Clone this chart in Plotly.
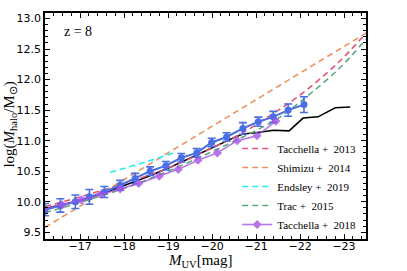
import plotly.graph_objects as go

# ---- data ----
shimizu_x = [-16.2, -20.8, -23.5]
shimizu_y = [9.58, 11.58, 12.76]

tacchella13_x = [-16.2, -17.0, -18.0, -19.0, -20.0, -20.7, -21.4, -21.8, -22.2, -22.6, -23.0, -23.5]
tacchella13_y = [9.92, 10.08, 10.30, 10.55, 10.88, 11.13, 11.45, 11.64, 11.86, 12.10, 12.37, 12.76]

trac_x = [-16.2, -17.0, -18.0, -19.0, -20.0, -20.7, -21.4, -21.8, -22.2, -22.6, -23.0, -23.5]
trac_y = [9.82, 9.99, 10.22, 10.50, 10.82, 11.06, 11.32, 11.52, 11.75, 11.99, 12.26, 12.66]

endsley_x = [-17.68, -18.67, -19.16]
endsley_y = [10.48, 10.69, 10.81]

sim_x = [-16.2, -17.0, -17.5, -18.0, -18.5, -19.0, -19.5, -20.0, -20.5, -20.7, -21.0, -21.4, -21.75, -22.07, -22.41, -22.8, -23.14]
sim_y = [9.89, 10.02, 10.13, 10.26, 10.40, 10.55, 10.72, 10.89, 11.05, 11.11, 11.13, 11.17, 11.16, 11.37, 11.39, 11.54, 11.55]

obs_x = [-16.2, -16.55, -16.89, -17.21, -17.55, -17.91, -18.25, -18.59, -18.95, -19.30, -19.65,
         -19.99, -20.33, -20.70, -21.05, -21.39, -21.73, -22.09]
obs_y = [9.87, 9.94, 10.00, 10.08, 10.16, 10.27, 10.38, 10.50, 10.59, 10.72, 10.80,
         10.97, 11.06, 11.20, 11.31, 11.39, 11.50, 11.59]
obs_err = [0.1, 0.11, 0.11, 0.12, 0.09, 0.08, 0.085, 0.07, 0.07, 0.07, 0.07,
           0.07, 0.07, 0.095, 0.075, 0.09, 0.10, 0.13]

t18_x = [-16.15, -16.59, -17.03, -17.47, -17.91, -18.33, -18.80, -19.23, -19.68, -20.12, -20.57, -21.02, -21.45]
t18_y = [9.88, 9.95, 10.03, 10.12, 10.21, 10.30, 10.42, 10.53, 10.68, 10.80, 11.00, 11.08, 11.32]
t18_err = [0.03] * 13

x_ticks = [-17, -18, -19, -20, -21, -22, -23]
y_ticks = [9.5, 10.0, 10.5, 11.0, 11.5, 12.0, 12.5, 13.0]

X_RANGE = [-16.2, -23.5]
Y_RANGE = [9.39, 13.09]

SERIF = "Liberation Serif"
SANS = "DejaVu Sans"
dash = "6px,4px"

fig = go.Figure()

fig.add_trace(go.Scatter(x=sim_x, y=sim_y, mode="lines",
                         line=dict(color="black", width=1.6), showlegend=False))
fig.add_trace(go.Scatter(x=tacchella13_x, y=tacchella13_y, mode="lines", name="Tacchella +  2013",
                         line=dict(color="#e4557a", width=1.6, dash=dash, shape="spline")))
fig.add_trace(go.Scatter(x=shimizu_x, y=shimizu_y, mode="lines", name="Shimizu +  2014",
                         line=dict(color="#eb9460", width=1.6, dash=dash)))
fig.add_trace(go.Scatter(x=endsley_x, y=endsley_y, mode="lines", name="Endsley +  2019",
                         line=dict(color="#22eef0", width=1.6, dash=dash)))
fig.add_trace(go.Scatter(x=trac_x, y=trac_y, mode="lines", name="Trac +  2015",
                         line=dict(color="#5aaa7a", width=1.6, dash=dash, shape="spline")))
fig.add_trace(go.Scatter(x=obs_x, y=obs_y, mode="lines+markers", showlegend=False,
                         line=dict(color="#4a6ee6", width=2),
                         marker=dict(color="#4a6ee6", size=7, symbol="circle"),
                         error_y=dict(type="data", array=obs_err, color="#4a6ee6",
                                      thickness=1.6, width=4)))
fig.add_trace(go.Scatter(x=t18_x, y=t18_y, mode="lines+markers", name="Tacchella +  2018",
                         opacity=0.8,
                         line=dict(color="#a552e6", width=1.6),
                         marker=dict(color="#a552e6", size=7, symbol="diamond"),
                         error_y=dict(type="data", array=t18_err, color="#a552e6",
                                      thickness=1.5, width=0)))
# invisible trace to anchor the mirrored (top/right) tick axes
fig.add_trace(go.Scatter(x=[X_RANGE[0]], y=[Y_RANGE[0]], xaxis="x2", yaxis="y2",
                         mode="markers", marker=dict(opacity=0), showlegend=False,
                         hoverinfo="skip"))

axis_common = dict(showline=True, linecolor="black", linewidth=1.5,
                   ticks="inside", ticklen=5, tickwidth=1.2, tickcolor="black",
                   showgrid=False, zeroline=False, automargin=False,
                   tickfont=dict(family=SANS, size=11, color="black"))

xminor = dict(ticks="inside", ticklen=3, tickcolor="black", dtick=0.2, tick0=-17)
yminor = dict(ticks="inside", ticklen=3, tickcolor="black", dtick=0.1, tick0=9.5)

fig.update_layout(
    xaxis=dict(range=X_RANGE, tickvals=x_ticks, minor=xminor, ticklabelstandoff=-4, **axis_common),
    yaxis=dict(range=Y_RANGE, tickvals=y_ticks, tickformat=".1f", minor=yminor, **axis_common),
    xaxis2=dict(range=X_RANGE, tickvals=x_ticks, minor=xminor, overlaying="x", side="top",
                anchor="y2", showticklabels=False, **axis_common),
    yaxis2=dict(range=Y_RANGE, tickvals=y_ticks, minor=yminor, overlaying="y", side="right",
                anchor="x2", showticklabels=False, **axis_common),
)

fig.add_annotation(xref="paper", yref="paper", x=0.053, y=0.917, xanchor="left", yanchor="middle",
                   text="z = 8", showarrow=False, font=dict(family=SERIF, size=14, color="black"))
fig.add_annotation(xref="paper", yref="paper", x=0.484, y=-0.097, xanchor="center", yanchor="middle",
                   text="<i>M</i><sub>UV</sub>[mag]", showarrow=False,
                   font=dict(family=SERIF, size=15, color="black"))
fig.add_annotation(xref="paper", yref="paper", x=-0.11, y=0.505, xanchor="center", yanchor="middle",
                   textangle=-90, text="log(<i>M</i><sub>halo</sub>/M<sub>⊙</sub>)", showarrow=False,
                   font=dict(family=SERIF, size=15, color="black"))

fig.update_layout(
    width=407, height=271,
    margin=dict(l=45, r=41, t=13, b=32),
    plot_bgcolor="white", paper_bgcolor="white",
    legend=dict(x=0.985, y=0.0, xanchor="right", yanchor="bottom",
                bgcolor="rgba(255,255,255,0)", borderwidth=0,
                font=dict(family=SERIF, size=11, color="black"),
                tracegroupgap=0, itemwidth=30),
)

fig.write_html("out.html", config={"displayModeBar": False},
               post_script="document.body.style.margin='0';document.body.style.padding='0';")
